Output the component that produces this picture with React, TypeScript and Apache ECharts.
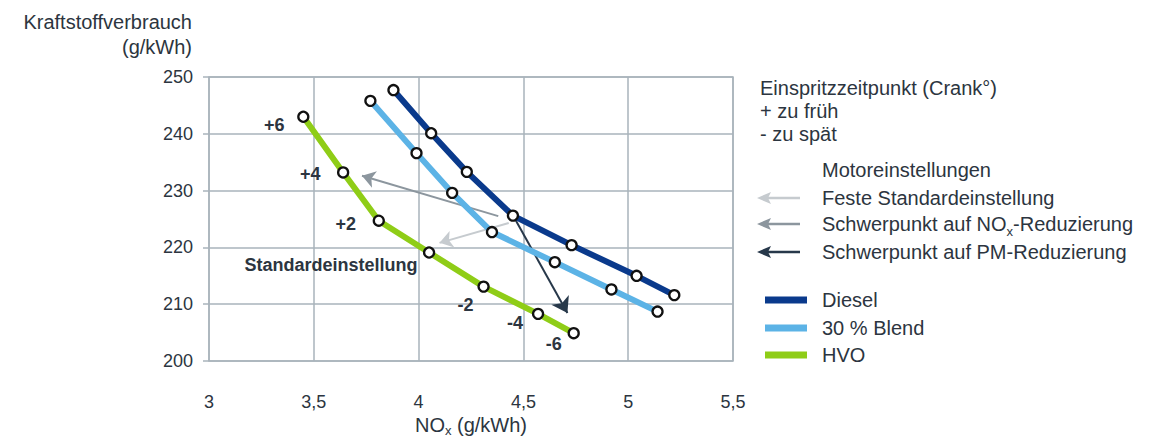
import React, { useEffect, useRef } from "react";
import * as echarts from "echarts";

// ---- data ----
const xTicks = [3, 3.5, 4, 4.5, 5, 5.5];
const yTicks = [200, 210, 220, 230, 240, 250];

const seriesNames = ["Diesel", "30 % Blend", "HVO"];
const dieselNOx = [3.88, 4.06, 4.23, 4.45, 4.73, 5.04, 5.22];
const dieselFuel = [247.7, 240.1, 233.3, 225.6, 220.4, 215.0, 211.6];
const blendNOx = [3.77, 3.99, 4.16, 4.35, 4.65, 4.92, 5.14];
const blendFuel = [245.8, 236.6, 229.6, 222.7, 217.4, 212.6, 208.7];
const hvoNOx = [3.45, 3.64, 3.81, 4.05, 4.31, 4.57, 4.74];
const hvoFuel = [243.0, 233.2, 224.7, 219.1, 213.1, 208.3, 204.9];
const hvoLabels = ["+6", "+4", "+2", "Standardeinstellung", "-2", "-4", "-6"];

const arrowNames = [
  "Feste Standardeinstellung",
  "Schwerpunkt auf NO{sub|x}-Reduzierung",
  "Schwerpunkt auf PM-Reduzierung",
];
const arrowFromNOx = [4.43, 4.38, 4.46];
const arrowFromFuel = [224.3, 225.5, 225.0];
const arrowToNOx = [4.1, 3.73, 4.71];
const arrowToFuel = [220.8, 232.6, 208.45];

const infoLines = ["Einspritzzeitpunkt (Crank°)", "+ zu früh", "- zu spät"];
const motorTitle = "Motoreinstellungen";
const yTitle = ["Kraftstoffverbrauch", "(g/kWh)"];
const xTitle = "NO{sub|x} (g/kWh)";

// ---- styles ----
const FONT = '"Liberation Sans", Arial, Helvetica, sans-serif';
const TEXT = "#2c3540";
const GRID = "#a9b3bb";
const seriesColors = ["#0a3a8c", "#5cb3e6", "#8fcd17"];
const arrowColors = ["#c6cbcf", "#8c969e", "#27384a"];
const hvoLabelOffsets: [number, number][] = [
  [-29, 8],
  [-33, 2],
  [-33, 3],
  [-98, 12],
  [-18, 18],
  [-23, 9],
  [-20, 11],
];
const fmt = (v: number) => String(v).replace(".", ",");
const subRich = { sub: { fontSize: 13, fontFamily: FONT, fill: TEXT, padding: [14, 0, 0, 0] } };
const subRichSmall = { sub: { fontSize: 13, fontFamily: FONT, fill: TEXT, padding: [10, 0, 0, 0] } };

export default function App() {
  const ref = useRef<HTMLDivElement>(null);
  useEffect(() => {
    if (!ref.current) return;
    const chart = echarts.init(ref.current, undefined, { renderer: "svg" });

    const mkLine = (i: number, xs: number[], ys: number[], labels?: string[]) => ({
      name: seriesNames[i],
      type: "line",
      z: 3,
      data: xs.map((x, k) => {
        const item: any = { value: [x, ys[k]] };
        if (labels) {
          item.label = {
            show: true,
            position: "inside",
            offset: hvoLabelOffsets[k],
            formatter: labels[k],
            fontSize: 18,
            fontWeight: "bold",
            fontFamily: FONT,
            color: TEXT,
          };
        }
        return item;
      }),
      symbol: "circle",
      symbolSize: 10,
      showSymbol: true,
      lineStyle: { color: seriesColors[i], width: 6, join: "round", cap: "round" },
      itemStyle: { color: "#ffffff", borderColor: "#111111", borderWidth: 2.3 },
      emphasis: { disabled: true },
    });

    const arrowSeries = arrowColors.map((c, i) => ({
      type: "lines",
      coordinateSystem: "cartesian2d",
      z: 2,
      symbol: ["none", "arrow"],
      symbolSize: i === 2 ? 15 : 13,
      lineStyle: { color: c, width: 2, opacity: 1 },
      data: [
        {
          coords: [
            [arrowFromNOx[i], arrowFromFuel[i]],
            [arrowToNOx[i], arrowToFuel[i]],
          ],
        },
      ],
    }));

    const txt = (x: number, y: number, text: string, align = "left", rich?: any) => ({
      type: "text",
      x,
      y,
      style: {
        text,
        fontSize: 20,
        fontFamily: FONT,
        fill: TEXT,
        textAlign: align,
        textVerticalAlign: "middle",
        ...(rich ? { rich } : {}),
      },
    });

    const graphics: any[] = [];
    graphics.push(txt(192, 22, yTitle[0], "right"));
    graphics.push(txt(192, 47, yTitle[1], "right"));
    graphics.push(txt(471, 425, xTitle, "center", subRichSmall));
    const infoY = [88, 111, 134];
    infoLines.forEach((t, i) => graphics.push(txt(760, infoY[i], t)));
    graphics.push(txt(822, 170, motorTitle));
    const arrY = [198, 224, 252];
    arrowNames.forEach((t, i) => {
      const y = arrY[i];
      graphics.push({
        type: "line",
        shape: { x1: 766, y1: y, x2: 800, y2: y },
        style: { stroke: arrowColors[i], lineWidth: 2.5 },
      });
      graphics.push({
        type: "polygon",
        shape: { points: [[757, y], [771, y - 6], [768, y], [771, y + 6]] },
        style: { fill: arrowColors[i] },
      });
      graphics.push(txt(822, y, t, "left", subRich));
    });
    const legY = [300, 328, 355];
    seriesNames.forEach((n, i) => {
      const y = legY[i];
      graphics.push({
        type: "rect",
        shape: { x: 765, y: y - 3.5, width: 42, height: 7 },
        style: { fill: seriesColors[i] },
      });
      graphics.push(txt(822, y, n));
    });

    chart.setOption({
      animation: false,
      textStyle: { fontFamily: FONT },
      grid: {
        left: 209,
        top: 77,
        right: 420,
        bottom: 78,
        show: true,
        borderColor: GRID,
        borderWidth: 1.5,
        containLabel: false,
        outerBoundsMode: "none",
      },
      xAxis: {
        type: "value",
        min: xTicks[0],
        max: xTicks[xTicks.length - 1],
        interval: 0.5,
        axisLine: { show: false },
        axisTick: { show: false },
        axisLabel: { formatter: (v: number) => fmt(v), fontSize: 18, color: TEXT, margin: 32, fontFamily: FONT },
        splitLine: { show: true, lineStyle: { color: GRID, width: 1.5 } },
      },
      yAxis: {
        type: "value",
        min: yTicks[0],
        max: yTicks[yTicks.length - 1],
        interval: 10,
        axisLine: { show: false },
        axisTick: { show: true, length: 6, lineStyle: { color: GRID, width: 1.5 } },
        axisLabel: { fontSize: 18, color: TEXT, margin: 16, fontFamily: FONT },
        splitLine: { show: true, lineStyle: { color: GRID, width: 1.5 } },
      },
      series: [
        ...arrowSeries,
        mkLine(0, dieselNOx, dieselFuel),
        mkLine(1, blendNOx, blendFuel),
        mkLine(2, hvoNOx, hvoFuel, hvoLabels),
      ],
      graphic: graphics,
    } as any);

    return () => chart.dispose();
  }, []);

  return (
    <div
      ref={ref}
      style={{ position: "fixed", left: 0, top: 0, width: 1153, height: 439, background: "#fff" }}
    />
  );
}
